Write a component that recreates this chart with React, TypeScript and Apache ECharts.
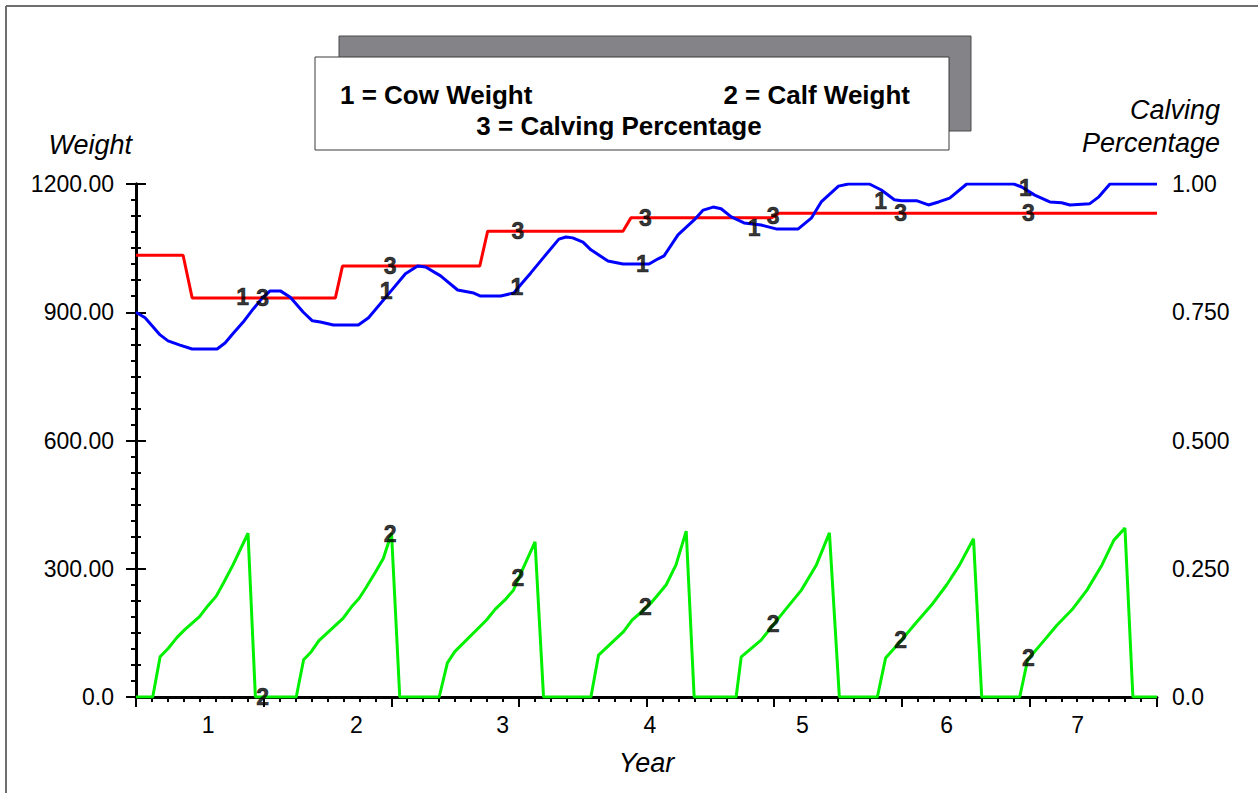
import React, { useEffect, useRef } from 'react';
import * as echarts from 'echarts';

// Time axis is in weeks (0..360), years marked by labels
const timeMax = 360;
const majorTickWeeks = 45;
const yearLabelWeeks = [25.4, 77.7, 129.3, 181.2, 235, 285.8, 332];
const yearLabels = ['1', '2', '3', '4', '5', '6', '7'];

// Series label positions (weeks) – STELLA-style numbered curves
const seriesLabelWeeks = [45, 90, 135, 180, 225, 270, 315];

// 1 = Cow Weight
const cowWeight: [number, number][] = [
  [0, 900], [3.2, 887], [8.5, 847], [11.3, 833], [15.5, 823], [19.8, 814], [28.6, 814],
  [31.4, 828], [34.3, 851], [37.8, 877], [41.0, 905], [44.5, 933], [47.3, 950], [50.9, 950],
  [54.4, 935], [59.0, 900], [62.2, 880], [65.0, 877], [69.6, 870], [78.4, 870], [82.0, 887],
  [88.7, 940], [95.0, 990], [99.3, 1008], [102.1, 1006], [107.4, 985], [113.4, 952],
  [119.1, 945], [121.5, 938], [128.6, 938], [133.2, 945], [135.7, 965], [139.2, 992],
  [143.8, 1029], [149.1, 1071], [151.6, 1076], [154.0, 1074], [157.6, 1064], [160.4, 1046],
  [166.4, 1020], [171.7, 1013], [180.9, 1013], [184.1, 1025], [186.2, 1032], [191.1, 1081],
  [196.8, 1116], [200.0, 1139], [203.5, 1146], [206.3, 1142], [209.9, 1123], [214.4, 1109],
  [220.4, 1104], [225.7, 1095], [233.5, 1095], [238.1, 1120], [241.6, 1158], [247.7, 1195],
  [251.2, 1200], [258.6, 1200], [262.8, 1186], [267.4, 1163], [269.9, 1161], [275.2, 1161],
  [279.4, 1151], [283.0, 1158], [286.9, 1167], [292.9, 1200], [309.5, 1200], [312.3, 1193],
  [316.9, 1174], [322.2, 1158], [326.4, 1156], [329.3, 1151], [336.3, 1154], [339.5, 1170],
  [343.4, 1200], [360, 1200],
];

// 2 = Calf Weight
const calfWeight: [number, number][] = [
  [0, 0], [5.9, 0], [8.5, 94], [11.4, 114], [14.4, 139], [17.1, 157], [22.4, 188], [25.3, 213],
  [28.3, 236], [30.8, 266], [34.2, 309], [39.5, 383], [42.1, 0], [56.5, 0],
  [59.1, 87], [61.8, 106], [64.5, 132], [73.0, 184], [76.0, 211], [78.7, 231], [81.3, 258],
  [84.5, 293], [87.2, 324], [90.1, 383], [93.0, 0], [106.9, 0],
  [109.8, 80], [112.4, 106], [123.6, 180], [126.6, 205], [130.1, 227], [133.1, 250],
  [135.4, 285], [140.7, 363], [143.7, 0], [160.4, 0],
  [163.1, 98], [171.9, 153], [174.9, 180], [178.4, 200], [181.6, 220], [186.9, 262],
  [190.4, 309], [194.0, 388], [196.8, 0], [211.6, 0],
  [213.4, 94], [220.4, 133], [227.5, 192], [234.6, 250], [239.9, 309], [244.5, 384],
  [248.0, 0], [261.4, 0],
  [264.3, 91], [269.9, 133], [275.2, 175], [280.5, 215], [285.8, 262], [290.4, 309],
  [295.3, 370], [298.2, 0], [311.6, 0],
  [314.4, 87], [319.4, 126], [324.7, 168], [330.0, 204], [335.3, 250], [340.6, 309],
  [344.8, 367], [348.7, 395], [351.5, 0], [360, 0],
];

// 3 = Calving Percentage
const calvingPct: [number, number][] = [
  [0, 0.861], [16.6, 0.861], [19.8, 0.778], [70.3, 0.778], [72.8, 0.84], [121.2, 0.84],
  [124.0, 0.908], [171.7, 0.908], [174.5, 0.934], [224.0, 0.934], [226.8, 0.943], [360, 0.943],
];

const weightTicks = { min: 0, max: 1200, interval: 300 };
const pctTicks = { min: 0, max: 1, interval: 0.25 };

// nudges of the "1" labels (style only)
const oneLabelShift: [number, number][] = [[-21, 0], [-5, 0], [-2, 0], [-4, 0], [-20, 0], [-21, 0], [-4, -4]];

function valueAt(series: [number, number][], w: number): number {
  for (let i = 0; i < series.length - 1; i++) {
    const [x0, y0] = series[i];
    const [x1, y1] = series[i + 1];
    if (w >= x0 && w <= x1) {
      if (x1 === x0) return y1;
      return y0 + ((y1 - y0) * (w - x0)) / (x1 - x0);
    }
  }
  return series[series.length - 1][1];
}

const FONT = "'Liberation Sans', Arial, sans-serif";

function labelSeries(name: string, digit: string, src: [number, number][], yAxisIndex: number, shifts?: [number, number][]) {
  return {
    name,
    type: 'scatter',
    xAxisIndex: 0,
    yAxisIndex,
    symbolSize: 0,
    silent: true,
    z: 10,
    data: seriesLabelWeeks.map((w, i) => ({
      value: [w, valueAt(src, w)],
      label: { offset: shifts ? shifts[i] : [-1, 0] },
    })),
    label: {
      show: true,
      position: 'inside',
      formatter: digit,
      color: '#000',
      fontFamily: FONT,
      fontWeight: 'bold',
      fontSize: 23,
      textBorderColor: '#000',
      textBorderWidth: 0.6,
    },
  };
}

export default function App() {
  const ref = useRef<HTMLDivElement>(null);
  useEffect(() => {
    if (!ref.current) return;
    const chart = echarts.init(ref.current, null, { renderer: 'svg' });
    const axisLine = { show: true, lineStyle: { color: '#000', width: 3 } };
    const option: any = {
      animation: false,
      backgroundColor: '#fff',
      textStyle: { fontFamily: FONT },
      grid: { left: 136, right: 101, top: 184, bottom: 96, containLabel: false },
      xAxis: [
        {
          type: 'value',
          min: 0,
          max: timeMax,
          interval: majorTickWeeks,
          position: 'bottom',
          axisLine,
          axisTick: { show: true, length: 10, lineStyle: { color: '#000', width: 2 } },
          minorTick: { show: true, splitNumber: 8, length: 5, lineStyle: { color: '#000', width: 2 } },
          axisLabel: { show: false },
          splitLine: { show: false },
          minorSplitLine: { show: false },
        },
        {
          type: 'value',
          min: 0,
          max: timeMax,
          position: 'bottom',
          offset: 0,
          axisLine: { show: false },
          axisTick: { show: false },
          splitLine: { show: false },
          axisLabel: {
            show: true,
            customValues: yearLabelWeeks,
            formatter: (v: number) => {
              const idx = yearLabelWeeks.findIndex((w) => Math.abs(w - v) < 1e-6);
              return idx >= 0 ? yearLabels[idx] : '';
            },
            color: '#000',
            fontSize: 23,
            margin: 16,
            fontFamily: FONT,
          },
          name: 'Year',
          nameLocation: 'middle',
          nameGap: 52,
          nameTextStyle: { fontStyle: 'italic', fontSize: 27, color: '#000', fontFamily: FONT },
        },
      ],
      yAxis: [
        {
          type: 'value',
          position: 'left',
          ...weightTicks,
          axisLine,
          axisTick: { show: true, length: 10, lineStyle: { color: '#000', width: 2 } },
          minorTick: { show: true, splitNumber: 8, length: 5, lineStyle: { color: '#000', width: 2 } },
          splitLine: { show: false },
          minorSplitLine: { show: false },
          axisLabel: {
            formatter: (v: number) => (v === 0 ? '0.0' : v.toFixed(2)),
            color: '#000',
            fontSize: 23,
            margin: 22,
            fontFamily: FONT,
          },
          name: 'Weight',
          nameLocation: 'end',
          nameGap: 39,
          nameTextStyle: {
            fontStyle: 'italic',
            fontSize: 27,
            color: '#000',
            align: 'right',
            verticalAlign: 'middle',
            padding: [0, 4, 0, 0],
            fontFamily: FONT,
          },
        },
        {
          type: 'value',
          position: 'right',
          ...pctTicks,
          axisLine,
          axisTick: { show: true, length: 10, lineStyle: { color: '#000', width: 2 } },
          minorTick: { show: true, splitNumber: 4, length: 5, lineStyle: { color: '#000', width: 2 } },
          splitLine: { show: false },
          minorSplitLine: { show: false },
          axisLabel: {
            formatter: (v: number) => (v === 0 ? '0.0' : v === 1 ? '1.00' : v.toFixed(3)),
            color: '#000',
            fontSize: 23,
            margin: 15,
            fontFamily: FONT,
          },
        },
      ],
      series: [
        {
          name: 'Cow Weight',
          type: 'line',
          xAxisIndex: 0,
          yAxisIndex: 0,
          data: cowWeight,
          showSymbol: false,
          symbol: 'none',
          lineStyle: { color: '#0000ff', width: 3 },
          z: 4,
        },
        {
          name: 'Calf Weight',
          type: 'line',
          xAxisIndex: 0,
          yAxisIndex: 0,
          data: calfWeight,
          showSymbol: false,
          symbol: 'none',
          lineStyle: { color: '#00f000', width: 3 },
          z: 3,
        },
        {
          name: 'Calving Percentage',
          type: 'line',
          xAxisIndex: 0,
          yAxisIndex: 1,
          data: calvingPct,
          showSymbol: false,
          symbol: 'none',
          lineStyle: { color: '#ff0000', width: 3 },
          z: 3,
        },
        labelSeries('label1', '1', cowWeight, 0, oneLabelShift),
        labelSeries('label2', '2', calfWeight, 0),
        labelSeries('label3', '3', calvingPct, 1),
      ],
      graphic: [
        { type: 'line', shape: { x1: 6, y1: 6, x2: 1258, y2: 6 }, style: { stroke: '#6e6e6e', lineWidth: 2 } },
        { type: 'line', shape: { x1: 6, y1: 6, x2: 6, y2: 793 }, style: { stroke: '#6e6e6e', lineWidth: 2 } },
        {
          type: 'rect',
          shape: { x: 339, y: 36, width: 632, height: 95 },
          style: { fill: '#838388', stroke: '#4a4a4a', lineWidth: 1 },
          z: 20,
        },
        {
          type: 'rect',
          shape: { x: 315, y: 57, width: 634, height: 93 },
          style: { fill: '#ffffff', stroke: '#3a3a3a', lineWidth: 1 },
          z: 21,
        },
        {
          type: 'text',
          x: 340,
          y: 95,
          z: 22,
          style: { text: '1 = Cow Weight', fill: '#000', font: `bold 26px ${FONT}`, textAlign: 'left', textVerticalAlign: 'middle' },
        },
        {
          type: 'text',
          x: 910,
          y: 95,
          z: 22,
          style: { text: '2 = Calf Weight', fill: '#000', font: `bold 26px ${FONT}`, textAlign: 'right', textVerticalAlign: 'middle' },
        },
        {
          type: 'text',
          x: 619,
          y: 126,
          z: 22,
          style: { text: '3 = Calving Percentage', fill: '#000', font: `bold 26px ${FONT}`, textAlign: 'center', textVerticalAlign: 'middle' },
        },
        {
          type: 'text',
          x: 1220,
          y: 126,
          z: 22,
          style: {
            text: 'Calving\nPercentage',
            fill: '#000',
            font: `italic 27px ${FONT}`,
            textAlign: 'right',
            textVerticalAlign: 'middle',
            lineHeight: 33,
          },
        },
      ],
    };
    chart.setOption(option);
    return () => chart.dispose();
  }, []);
  return (
    <div
      ref={ref}
      style={{ position: 'fixed', left: 0, top: 0, width: 1258, height: 793, background: '#fff' }}
    />
  );
}
